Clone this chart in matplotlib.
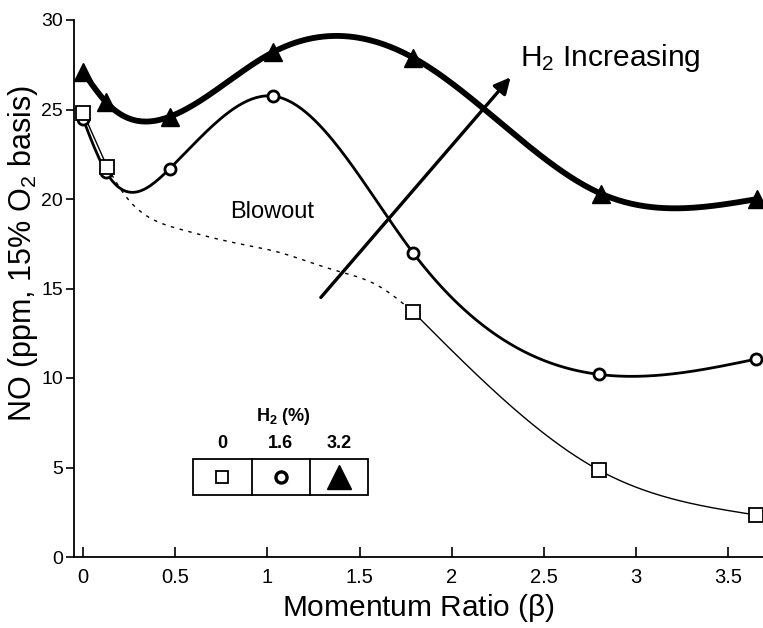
import numpy as np
import matplotlib
matplotlib.use('Agg')
import matplotlib.pyplot as plt
from matplotlib.patches import Rectangle
from matplotlib.lines import Line2D

plt.rcParams['font.family'] = ['Liberation Sans', 'DejaVu Sans']
plt.rcParams['mathtext.fontset'] = 'custom'
plt.rcParams['mathtext.rm'] = 'Liberation Sans'
plt.rcParams['mathtext.it'] = 'Liberation Sans'
plt.rcParams['mathtext.bf'] = 'Liberation Sans:bold'

# H2 = 0 %  (square)
beta_h0 = [0.0, 0.13, 1.79, 2.80, 3.65]
no_h0 = [24.8, 21.8, 13.7, 4.85, 2.35]
# H2 = 1.6 %  (circle)
beta_h16 = [0.0, 0.125, 0.47, 1.03, 1.79, 2.80, 3.65]
no_h16 = [24.45, 21.5, 21.7, 25.75, 17.0, 10.2, 11.05]
# H2 = 3.2 %  (triangle)
beta_h32 = [0.0, 0.125, 0.47, 1.03, 1.79, 2.81, 3.66]
no_h32 = [27.1, 25.4, 24.6, 28.2, 27.9, 20.3, 20.0]
# blowout boundary (dashed)
blowout_beta = [0.13, 0.22, 0.37, 0.53, 0.80, 1.07, 1.34, 1.61, 1.79]
blowout_no = [21.8, 20.3, 18.9, 18.3, 17.6, 17.0, 16.1, 15.1, 13.7]

xticks = [0, 0.5, 1, 1.5, 2, 2.5, 3, 3.5]
xtick_labels = ['0', '0.5', '1', '1.5', '2', '2.5', '3', '3.5']
yticks = [0, 5, 10, 15, 20, 25, 30]

legend_heads = ['0', '1.6', '3.2']


def natural_spline(x, y, n=300):
    """natural cubic spline through (x, y), sampled on n points"""
    x = np.asarray(x, float)
    y = np.asarray(y, float)
    k = len(x)
    h = np.diff(x)
    A = np.zeros((k, k))
    r = np.zeros(k)
    A[0, 0] = A[-1, -1] = 1.0
    for i in range(1, k - 1):
        A[i, i - 1] = h[i - 1]
        A[i, i] = 2 * (h[i - 1] + h[i])
        A[i, i + 1] = h[i]
        r[i] = 6 * ((y[i + 1] - y[i]) / h[i] - (y[i] - y[i - 1]) / h[i - 1])
    M = np.linalg.solve(A, r)
    xs = np.linspace(x[0], x[-1], n)
    idx = np.clip(np.searchsorted(x, xs) - 1, 0, k - 2)
    x0, x1 = x[idx], x[idx + 1]
    hh = x1 - x0
    a = (x1 - xs) / hh
    b = (xs - x0) / hh
    ys = (a * y[idx] + b * y[idx + 1]
          + ((a ** 3 - a) * M[idx] + (b ** 3 - b) * M[idx + 1]) * hh ** 2 / 6)
    return xs, ys


fig = plt.figure(figsize=(7.63, 6.28), dpi=100)
ax = fig.add_axes([74 / 763, 71 / 628, 689 / 763, 537 / 628])

# 3.2 % H2
xs, ys = natural_spline(beta_h32, no_h32)
ax.plot(xs, ys, color='k', lw=4.2, solid_capstyle='round', zorder=3)
ax.plot(beta_h32, no_h32, ls='none', marker='^', ms=13, color='k', zorder=4)

# 1.6 % H2
xs, ys = natural_spline(beta_h16, no_h16)
ax.plot(xs, ys, color='k', lw=2.0, zorder=3)
ax.plot(beta_h16, no_h16, ls='none', marker='o', ms=8, mfc='white',
        mec='k', mew=2.0, zorder=4)

# 0 % H2: solid before and after the blowout region
ax.plot(beta_h0[:2], no_h0[:2], color='k', lw=1.0, zorder=3)
xs, ys = natural_spline(beta_h0[2:], no_h0[2:])
ax.plot(xs, ys, color='k', lw=1.0, zorder=3)
xs, ys = natural_spline(blowout_beta, blowout_no)
ax.plot(xs, ys, color='k', lw=1.0, ls=(0, (2.5, 4)), zorder=3)
ax.plot(beta_h0, no_h0, ls='none', marker='s', ms=9.5, mfc='white',
        mec='k', mew=1.3, zorder=4)

ax.text(0.80, 19.3, 'Blowout', fontsize=17, ha='left', va='center')

ax.annotate('', xy=(2.32, 26.8), xytext=(1.29, 14.5),
            arrowprops=dict(arrowstyle='-|>', lw=2.4, color='k',
                            mutation_scale=24, shrinkA=0, shrinkB=0))
ax.text(2.37, 27.45, 'H$_2$ Increasing', fontsize=21.5, ha='left',
        va='baseline')

# symbol key in the lower left
tr = ax.transAxes
box_l, box_r, box_b, box_t = 0.173, 0.427, 0.115, 0.183
cells = np.linspace(box_l, box_r, 4)
ax.add_patch(Rectangle((box_l, box_b), box_r - box_l, box_t - box_b,
                       transform=tr, fill=False, lw=1.3, ec='k', zorder=5))
for xc in cells[1:3]:
    ax.add_artist(Line2D([xc, xc], [box_b, box_t], transform=tr,
                         color='k', lw=1.3, zorder=5))
centers = (cells[:-1] + cells[1:]) / 2
key_styles = [dict(marker='s', ms=9, mfc='white', mec='k', mew=1.3),
              dict(marker='o', ms=8, mfc='white', mec='k', mew=2.4),
              dict(marker='^', ms=17, color='k')]
for xc, head, st in zip(centers, legend_heads, key_styles):
    ax.plot([xc], [(box_b + box_t) / 2], transform=tr, ls='none',
            zorder=6, clip_on=False, **st)
    ax.text(xc, 0.212, head, transform=tr, ha='center', va='center',
            fontsize=13, fontweight='bold')
ax.text(centers[1] + 0.004, 0.262, r'H$_\mathbf{2}$ (%)', transform=tr,
        ha='center', va='center', fontsize=13, fontweight='bold')

ax.set_xlim(-0.05, 3.69)
ax.set_ylim(0, 30)
ax.set_xticks(xticks)
ax.set_xticklabels(xtick_labels)
ax.set_yticks(yticks)
ax.set_yticklabels([str(v) for v in yticks])
ax.tick_params(axis='x', direction='in', length=7, width=1.2, pad=8,
               labelsize=14.5)
ax.tick_params(axis='y', direction='out', length=6, width=1.2, pad=2,
               labelsize=14)
for side in ('top', 'right'):
    ax.spines[side].set_visible(False)
for side in ('left', 'bottom'):
    ax.spines[side].set_linewidth(1.3)

ax.set_xlabel('Momentum Ratio ($\\beta$)', fontsize=21.5, va='top')
ax.set_ylabel('NO (ppm, 15% O$_2$ basis)', fontsize=22)
ax.xaxis.set_label_coords(0.5, -0.066)
ax.yaxis.set_label_coords(-0.05, 0.566)

fig.savefig('out.png', dpi=100)
